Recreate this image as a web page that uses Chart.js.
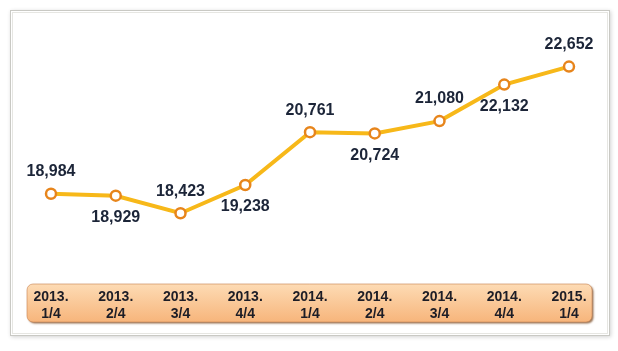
<!DOCTYPE html>
<html>
<head>
<meta charset="utf-8">
<script src="https://cdn.jsdelivr.net/npm/chart.js@4"></script>
<style>
    html, body { margin: 0; padding: 0; background: #fff; }
    #wrap { width: 618px; height: 351px; position: relative; }
</style>
</head>
<body>
<div id="wrap"><canvas id="chart" width="618" height="351"></canvas></div>
<script>
// --- Data ---
const quarters = [
    ['2013.', '1/4'], ['2013.', '2/4'], ['2013.', '3/4'], ['2013.', '4/4'],
    ['2014.', '1/4'], ['2014.', '2/4'], ['2014.', '3/4'], ['2014.', '4/4'],
    ['2015.', '1/4'],
];
const values = [18984, 18929, 18423, 19238, 20761, 20724, 21080, 22132, 22652];
// label above (-1) or below (+1) each point
const labelSide = [-1, 1, -1, 1, -1, 1, -1, 1, -1];

const colors = {
    line: '#f7b819',
    pointBorder: '#e7851c',
    text: '#1c2538',
    frame: '#c9c9c4',
    boxTop: '#fddbb4',
    boxBottom: '#f7b57b',
};

// --- Background frame + peach axis box ---
const framePlugin = {
    id: 'frame',
    beforeDraw(chart) {
        const ctx = chart.ctx;
        ctx.save();
        ctx.fillStyle = '#fff';
        ctx.fillRect(0, 0, chart.width, chart.height);

        // outer frame with soft shadow
        ctx.shadowColor = 'rgba(0,0,0,0.18)';
        ctx.shadowBlur = 4;
        ctx.shadowOffsetX = 1;
        ctx.shadowOffsetY = 1;
        ctx.fillStyle = '#fff';
        ctx.fillRect(10, 10, 600, 326);
        ctx.shadowColor = 'transparent';
        ctx.strokeStyle = colors.frame;
        ctx.lineWidth = 1;
        ctx.strokeRect(10.5, 10.5, 599, 325);
        ctx.strokeStyle = '#e6e6e2';
        ctx.strokeRect(12.5, 12.5, 595, 321);

        // axis label box
        const top = 284, h = 38;
        const left = 27, w = 565;
        ctx.shadowColor = 'rgba(120,70,30,0.75)';
        ctx.shadowBlur = 2;
        ctx.shadowOffsetX = 1.5;
        ctx.shadowOffsetY = 1.5;
        const g = ctx.createLinearGradient(0, top, 0, top + h);
        g.addColorStop(0, colors.boxTop);
        g.addColorStop(1, colors.boxBottom);
        ctx.fillStyle = g;
        ctx.beginPath();
        ctx.roundRect(left, top, w, h, 6);
        ctx.fill();
        ctx.shadowColor = 'transparent';
        ctx.strokeStyle = 'rgba(200,130,80,0.6)';
        ctx.lineWidth = 1;
        ctx.stroke();
        ctx.restore();
    },
};

// --- Value labels next to points ---
const valueLabels = {
    id: 'valueLabels',
    afterDatasetsDraw(chart) {
        const ctx = chart.ctx;
        const meta = chart.getDatasetMeta(0);
        ctx.save();
        ctx.font = 'bold 16px "Liberation Sans", Arial, sans-serif';
        ctx.fillStyle = colors.text;
        ctx.textAlign = 'center';
        ctx.textBaseline = 'middle';
        meta.data.forEach((pt, i) => {
            ctx.fillText(values[i].toLocaleString('en-US'), pt.x, pt.y + labelSide[i] * 22);
        });
        ctx.restore();
    },
};

new Chart(document.getElementById('chart'), {
    type: 'line',
    data: {
        labels: quarters,
        datasets: [{
            data: values,
            borderColor: colors.line,
            borderWidth: 4,
            tension: 0,
            pointRadius: 5,
            pointBorderWidth: 2.5,
            pointBackgroundColor: '#fff',
            pointBorderColor: colors.pointBorder,
        }],
    },
    options: {
        responsive: false,
        animation: false,
        layout: { padding: { left: 51, right: 49, top: 40, bottom: 29 } },
        plugins: {
            legend: { display: false },
            tooltip: { enabled: false },
        },
        scales: {
            x: {
                offset: false,
                grid: { display: false, drawTicks: false },
                border: { display: false },
                afterFit: s => { s.height = 62; },
                ticks: {
                    color: '#1d1d26',
                    font: { family: '"Liberation Sans", Arial, sans-serif', size: 14, weight: 'bold', lineHeight: 1.25 },
                    padding: 28,
                    maxRotation: 0,
                    autoSkip: false,
                },
            },
            y: {
                display: false,
                min: 17075,
                max: 23418,
            },
        },
    },
    plugins: [framePlugin, valueLabels],
});
</script>
</body>
</html>
